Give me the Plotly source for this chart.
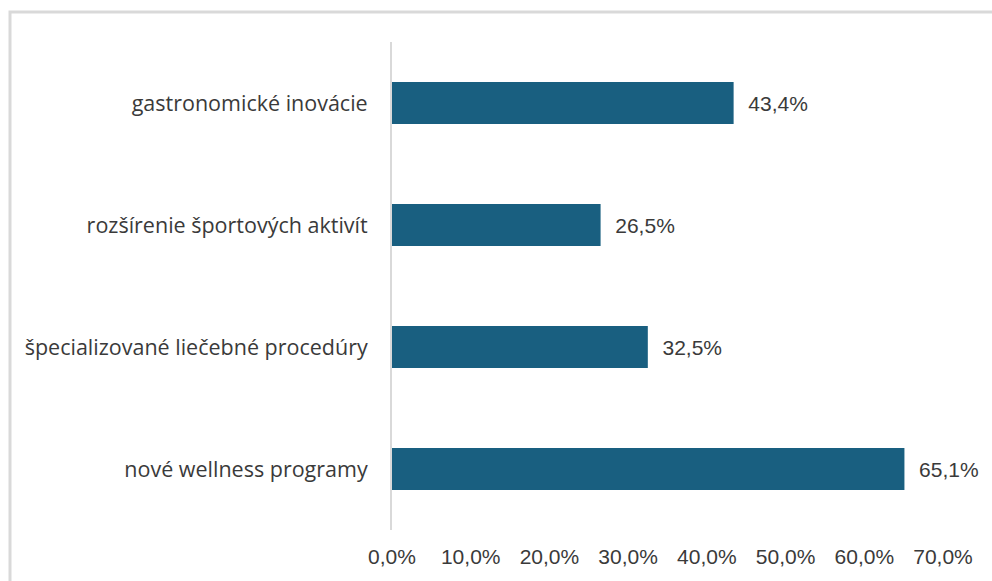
import plotly.graph_objects as go

categories = ["nové wellness programy", "špecializované liečebné procedúry",
              "rozšírenie športových aktivít", "gastronomické inovácie"]
values = [65.1, 32.5, 26.5, 43.4]
tick_vals = [0, 10, 20, 30, 40, 50, 60, 70]
tick_text = [f"{v:.1f}%".replace(".", ",") for v in tick_vals]

bar_color = "#195f80"
text_color = "#3a3a3a"

fig = go.Figure(go.Bar(
    y=categories, x=values, orientation="h",
    marker=dict(color=bar_color, line=dict(width=0)),
    width=0.344,
    texttemplate="&nbsp;&nbsp;%{x:.1f}%",
    textposition="outside",
    cliponaxis=False,
    textfont=dict(family="Liberation Sans", size=21, color=text_color),
))

fig.update_layout(
    width=992, height=581,
    margin=dict(l=392, r=49, t=42, b=51),
    paper_bgcolor="white", plot_bgcolor="white",
    separators=", ",
    showlegend=False,
    xaxis=dict(range=[0, 70], tickvals=tick_vals, ticktext=tick_text,
               showgrid=False, zeroline=False, showline=False,
               ticks="outside", ticklen=8, tickcolor="rgba(0,0,0,0)",
               tickfont=dict(family="Liberation Sans", size=21, color=text_color)),
    yaxis=dict(showgrid=False, zeroline=False, showline=True, linecolor="#d9d9d9", linewidth=2,
               ticks="", ticklabelstandoff=18,
               tickfont=dict(family="Open Sans", size=21.5, color=text_color)),
    shapes=[dict(type="rect", xref="paper", yref="paper",
                 x0=(10 - 392) / 551, x1=1.3, y0=-0.3, y1=1 + (42 - 12) / 488,
                 line=dict(color="#d9d9d9", width=3), fillcolor="rgba(0,0,0,0)", layer="below")],
)

fig.write_html("out.html")
